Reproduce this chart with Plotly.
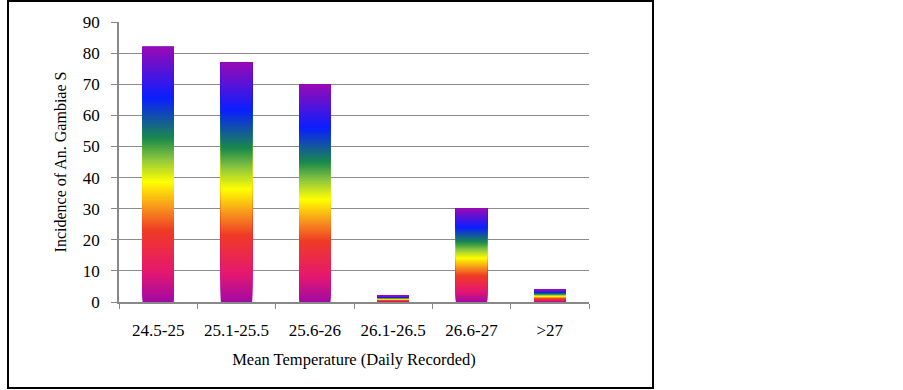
import plotly.graph_objects as go

categories = ["24.5-25", "25.1-25.5", "25.6-26", "26.1-26.5", "26.6-27", ">27"]
incidence = [82, 77, 70, 2, 30, 4]
y_ticks = [0, 10, 20, 30, 40, 50, 60, 70, 80, 90]

# rainbow gradient stops (fraction of bar height from bottom, colour)
grad_pos = [0.0, 0.12, 0.28, 0.37, 0.47, 0.56, 0.64, 0.80, 1.0]
grad_col = ["#a20aa5", "#e6186e", "#ef3b24", "#f7941d", "#ffff00",
            "#8dc63f", "#1a8a4a", "#0a1eff", "#9a0ab5"]


def hex2rgb(h):
    h = h.lstrip("#")
    return tuple(int(h[i:i + 2], 16) for i in (0, 2, 4))


def sample(f):
    for i in range(len(grad_pos) - 1):
        if grad_pos[i] <= f <= grad_pos[i + 1]:
            t = (f - grad_pos[i]) / (grad_pos[i + 1] - grad_pos[i])
            a, b = hex2rgb(grad_col[i]), hex2rgb(grad_col[i + 1])
            c = [round(a[j] + (b[j] - a[j]) * t) for j in range(3)]
            return "rgb(%d,%d,%d)" % tuple(c)
    return grad_col[-1]


N = 120
fig = go.Figure()
for k in range(N):
    f = k / N
    fig.add_trace(go.Bar(
        x=categories,
        base=[v * f for v in incidence],
        y=[v * (1 - f) for v in incidence],
        marker=dict(color=sample(f + 0.5 / N), line=dict(width=0)),
        width=0.4,
        showlegend=False,
        hoverinfo="skip",
    ))

W, H = 903, 390
L, R, T, B = 119, 589, 22, 302
fig.update_layout(
    width=W, height=H, autosize=False,
    barmode="overlay",
    margin=dict(l=L, r=W - R, t=T, b=H - B, pad=0),
    plot_bgcolor="white", paper_bgcolor="white",
    font=dict(family="Liberation Serif, Times New Roman, serif", size=16, color="black"),
    xaxis=dict(
        type="category",
        showline=True, linecolor="#888888", linewidth=1.5,
        ticks="outside", tickson="boundaries", ticklen=5, tickcolor="#888888",
        ticklabelstandoff=12,
        showgrid=False,
        title=dict(text="Mean Temperature (Daily Recorded)", standoff=14, font=dict(size=16.5)),
        tickfont=dict(size=17),
    ),
    yaxis=dict(
        range=[0, 90], tickvals=y_ticks,
        showline=True, linecolor="#888888", linewidth=1.5,
        ticks="outside", ticklen=6, tickcolor="#888888",
        ticklabelstandoff=8,
        showgrid=True, gridcolor="#8c8c8c", gridwidth=1.2,
        zeroline=False,
        title=dict(text="Incidence of An. Gambiae S", standoff=12, font=dict(size=16)),
        tickfont=dict(size=17),
    ),
    shapes=[dict(
        type="rect", xref="paper", yref="paper",
        x0=(8 - L) / (R - L), x1=(653 - L) / (R - L),
        y0=(B - 388) / (B - T), y1=(B - 1) / (B - T),
        line=dict(color="black", width=2), fillcolor="rgba(0,0,0,0)",
        layer="above",
    )],
)

fig.write_html(
    "out.html",
    config={"displayModeBar": False},
    post_script="document.body.style.margin='0';document.body.style.overflow='hidden';",
)
